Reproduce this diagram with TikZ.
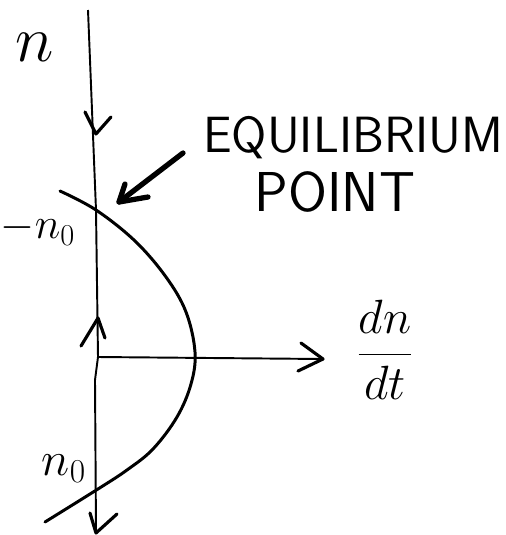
\documentclass[tikz,border=0pt]{standalone}
\begin{document}
\begin{tikzpicture}[x=0.02cm,y=-0.02cm,
  axis/.style={line width=1.1pt},
  curve/.style={line width=1.7pt, line cap=round},
  tick/.style={line width=1.8pt, line cap=round, line join=round},
  pointer/.style={line width=3pt, line cap=round, line join=round},
  lbl/.style={inner sep=0pt}]
\useasboundingbox (0,0) rectangle (506,535);
% axes
\coordinate (vtop) at (88,10);
\coordinate (vbot) at (96,532);
\coordinate (origin) at (98,357);
\coordinate (htip) at (323,359);
\draw[axis] (vtop) -- (96,210) -- (origin) -- (95,380) -- (vbot);
\draw[axis] (origin) -- (htip);
\draw[tick] (301,343) -- (htip) -- (298,371);
% direction marks on the vertical axis
\draw[tick] (85,112) -- (96,134) -- (111,117);
\draw[tick] (81,346) -- (98,318) -- (105,338);
\draw[tick] (90,513) -- (96,533) -- (117,514);
% curve
\draw[curve] plot[smooth, tension=0.6] coordinates {(60,191) (96,210) (135,241) (166,277) (186,312) (195,352) (191,384) (177,417) (153,449) (127,470) (98,489) (45,522)};
% equilibrium pointer
\coordinate (ptail) at (183,153);
\coordinate (ptip) at (119,202);
\draw[pointer] (ptail) -- (ptip);
\draw[pointer] (125,184) -- (ptip) -- (148,197);
% labels
\node[lbl, scale=1.5] (nlab) at (35,47) {\fontsize{24}{24}\selectfont $n$};
\node[lbl] (mn0) at (38,229) {\fontsize{24}{24}\selectfont $-n_0$};
\node[lbl, scale=1.1] (n0) at (64,469) {\fontsize{24}{24}\selectfont $n_0$};
\node[lbl, scale=1.1] (dndt) at (385,350) {\fontsize{24}{24}\selectfont $\displaystyle\frac{dn}{dt}$};
\node[lbl] (eq) at (353,138) {\fontsize{29}{29}\selectfont\sffamily EQUILIBRIUM};
\node[lbl] (pt) at (335,192) {\fontsize{32}{32}\selectfont\sffamily POINT};
\end{tikzpicture}
\end{document}
